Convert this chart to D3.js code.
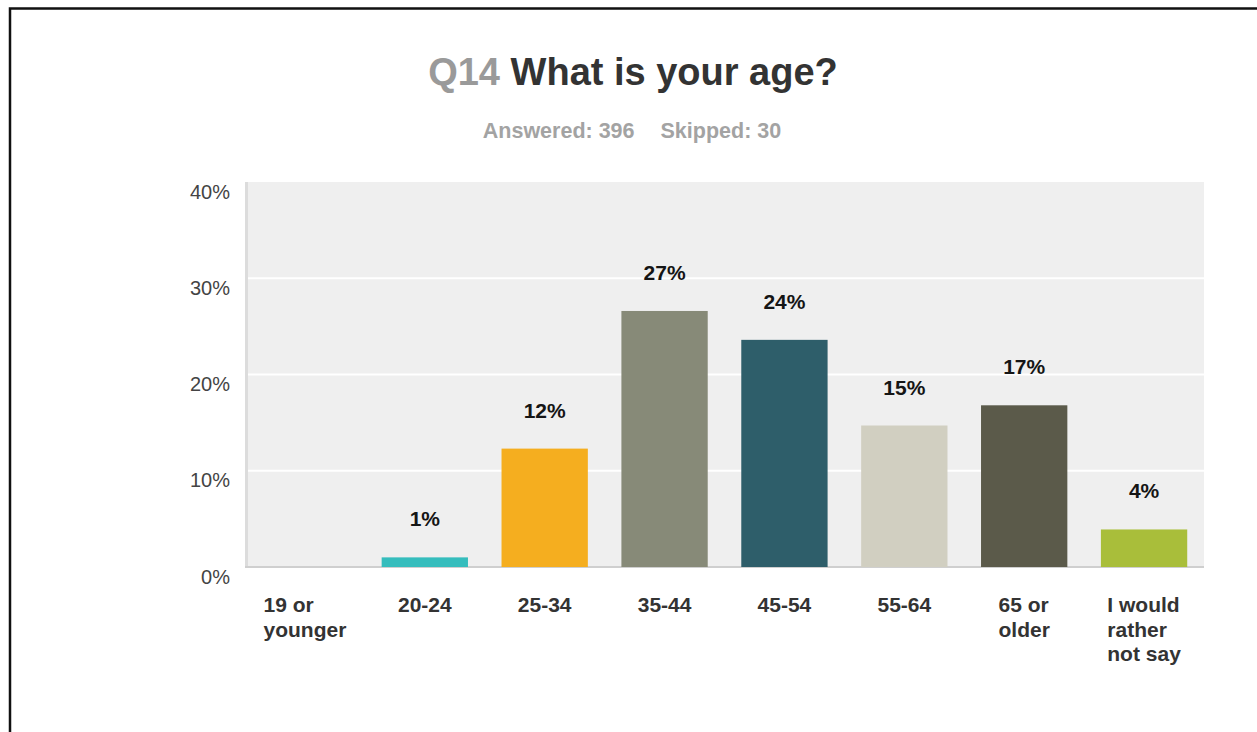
<!DOCTYPE html>
<html>
<head>
<meta charset="utf-8">
<script src="https://cdn.jsdelivr.net/npm/d3@7"></script>
<style>
  html, body { margin: 0; padding: 0; background: #fff; }
  svg { display: block; font-family: Arial, "Liberation Sans", sans-serif; }
</style>
</head>
<body>
<svg id="chart" width="1257" height="732"></svg>
<script>
// Survey question and response counts
const questionNumber = "Q14";
const questionText = "What is your age?";
const answered = 396;
const skipped = 30;

// Answer categories and share of respondents (%)
const categories = ["19 or younger", "20-24", "25-34", "35-44", "45-54", "55-64", "65 or older", "I would rather not say"];
const shares = [0, 1.0, 12.3, 26.6, 23.6, 14.7, 16.8, 3.9];
const barColors = ["#35BDBD", "#35BDBD", "#F5AE1F", "#878A78", "#2E5E6A", "#D1CFC1", "#5B5A4A", "#A9BE3A"];
const yTicks = [0, 10, 20, 30, 40];

const svg = d3.select("#chart");
const W = 1257, H = 732;
const plot = { left: 245, right: 1204, top: 182, bottom: 567 };

// Outer frame
svg.append("path")
  .attr("d", `M10,${H + 5} L10,8.5 L${W + 5},8.5`)
  .attr("fill", "none")
  .attr("stroke", "#111")
  .attr("stroke-width", 2.5);

// Title
const title = svg.append("text")
  .attr("x", 633).attr("y", 85)
  .attr("text-anchor", "middle")
  .attr("font-size", 38).attr("font-weight", "bold");
title.append("tspan").attr("fill", "#9a9a9a").text(questionNumber + " ");
title.append("tspan").attr("fill", "#333").text(questionText);

// Answered / skipped line
const sub = svg.append("text")
  .attr("x", 632).attr("y", 138)
  .attr("text-anchor", "middle")
  .attr("font-size", 21.5).attr("font-weight", "bold")
  .attr("fill", "#a3a3a3");
sub.append("tspan").text(`Answered: ${answered}`);
sub.append("tspan").attr("dx", 26).text(`Skipped: ${skipped}`);

// Scales
const x = d3.scaleBand()
  .domain(categories)
  .range([plot.left, plot.right])
  .paddingInner(0.28)
  .paddingOuter(0.14);

const y = d3.scaleLinear()
  .domain([0, 40])
  .range([plot.bottom, plot.top]);

// Plot background
svg.append("rect")
  .attr("x", plot.left).attr("y", plot.top)
  .attr("width", plot.right - plot.left)
  .attr("height", plot.bottom - plot.top)
  .attr("fill", "#efefef");

// Horizontal gridlines
svg.append("g")
  .selectAll("line")
  .data(yTicks.filter(d => d > 0 && d < 40))
  .join("line")
  .attr("x1", plot.left).attr("x2", plot.right)
  .attr("y1", d => y(d)).attr("y2", d => y(d))
  .attr("stroke", "#fff").attr("stroke-width", 2);

// Left and bottom axis rules
svg.append("line")
  .attr("x1", plot.left + 1.5).attr("x2", plot.left + 1.5)
  .attr("y1", plot.top).attr("y2", plot.bottom)
  .attr("stroke", "#dcdcdc").attr("stroke-width", 3);
svg.append("line")
  .attr("x1", plot.left).attr("x2", plot.right)
  .attr("y1", plot.bottom).attr("y2", plot.bottom)
  .attr("stroke", "#cfcfcf").attr("stroke-width", 2);

// Y axis labels
const yAxis = svg.append("g")
  .attr("transform", `translate(230,0)`)
  .call(d3.axisLeft(y).tickValues(yTicks).tickFormat(d => d + "%").tickSize(0).tickPadding(0));
yAxis.select(".domain").remove();
yAxis.selectAll("text")
  .attr("font-family", "Arial, 'Liberation Sans', sans-serif")
  .attr("font-size", 20)
  .attr("fill", "#444")
  .attr("dy", 16);

// Bars
svg.append("g")
  .selectAll("rect")
  .data(categories)
  .join("rect")
  .attr("x", d => x(d))
  .attr("width", x.bandwidth())
  .attr("y", (d, i) => y(shares[i]))
  .attr("height", (d, i) => y(0) - y(shares[i]))
  .attr("fill", (d, i) => barColors[i]);

// Value labels above bars
svg.append("g")
  .selectAll("text")
  .data(categories)
  .join("text")
  .filter((d, i) => shares[i] > 0)
  .attr("x", d => x(d) + x.bandwidth() / 2)
  .attr("y", d => y(shares[categories.indexOf(d)]) - 31)
  .attr("text-anchor", "middle")
  .attr("font-size", 21).attr("font-weight", "bold")
  .attr("fill", "#151515")
  .text(d => Math.round(shares[categories.indexOf(d)]) + "%");

// Category labels, wrapped into a centred block of left-aligned lines
const labelG = svg.append("g");
const wrapWidth = 90;
categories.forEach(cat => {
  const t = labelG.append("text")
    .attr("font-size", 21).attr("font-weight", "bold")
    .attr("fill", "#333");
  const words = cat.split(" ");
  const lines = [];
  let current = [];
  const probe = t.append("tspan");
  words.forEach(w => {
    const trial = current.concat([w]).join(" ");
    probe.text(trial);
    if (current.length && probe.node().getComputedTextLength() > wrapWidth) {
      lines.push(current.join(" "));
      current = [w];
    } else {
      current.push(w);
    }
  });
  lines.push(current.join(" "));
  probe.remove();
  let maxW = 0;
  const spans = lines.map((ln, k) => {
    const s = t.append("tspan").attr("y", 612 + k * 24.5).text(ln);
    maxW = Math.max(maxW, s.node().getComputedTextLength());
    return s;
  });
  const left = x(cat) + x.bandwidth() / 2 - maxW / 2;
  spans.forEach(s => s.attr("x", left));
});
</script>
</body>
</html>
